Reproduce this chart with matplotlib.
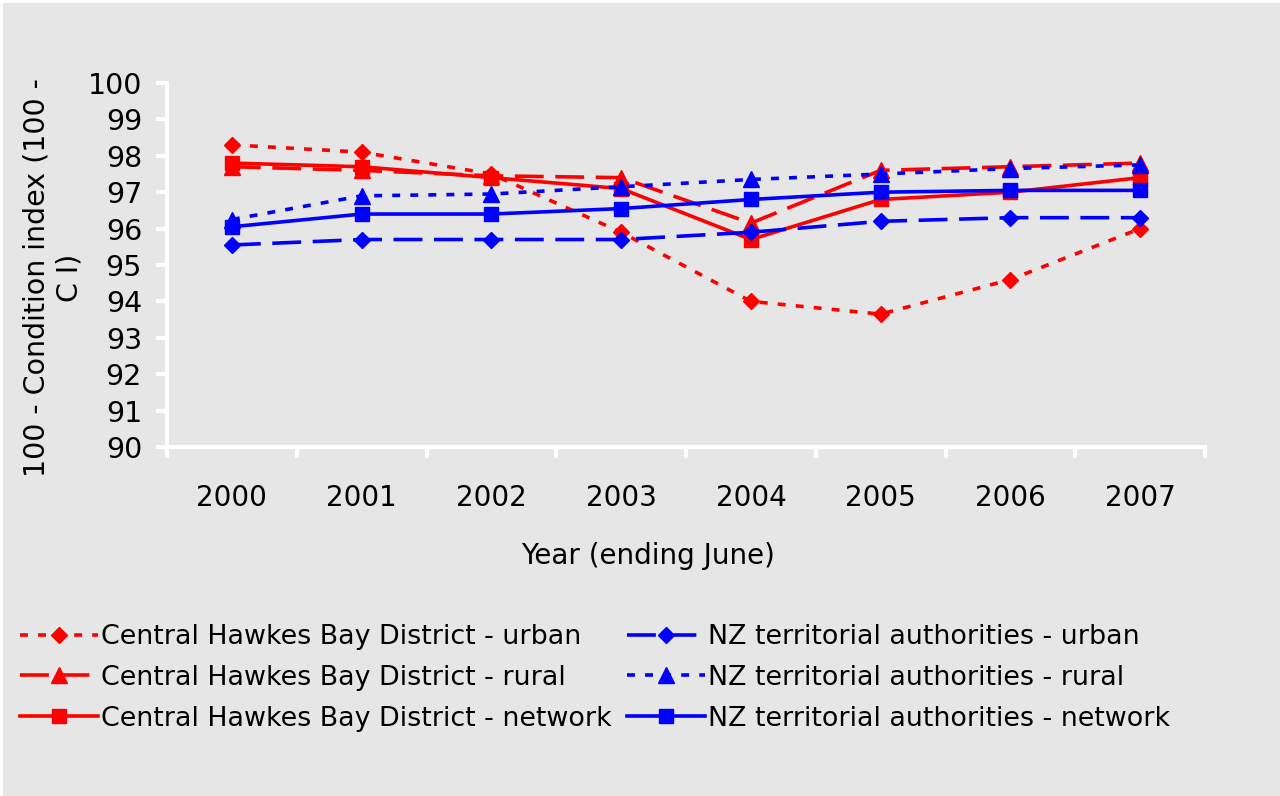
import matplotlib.pyplot as plt
import numpy as np
from matplotlib.patches import Rectangle
from matplotlib.ticker import FixedLocator, NullFormatter

# Data
years = ['2000', '2001', '2002', '2003', '2004', '2005', '2006', '2007']
chb_urban = [98.3, 98.1, 97.5, 95.9, 94.0, 93.65, 94.6, 96.0]
chb_rural = [97.7, 97.6, 97.45, 97.4, 96.15, 97.6, 97.7, 97.8]
chb_network = [97.8, 97.7, 97.4, 97.1, 95.7, 96.8, 97.0, 97.4]
nz_urban = [95.55, 95.7, 95.7, 95.7, 95.9, 96.2, 96.3, 96.3]
nz_rural = [96.25, 96.9, 96.95, 97.15, 97.35, 97.5, 97.65, 97.75]
nz_network = [96.05, 96.4, 96.4, 96.55, 96.8, 97.0, 97.05, 97.05]

bg = '#e6e6e6'
plt.rcParams['font.family'] = 'DejaVu Sans'
plt.rcParams['font.size'] = 20

fig = plt.figure(figsize=(12.8, 7.96), dpi=100, facecolor='white')
# grey panel with thin white edge on the left and top
fig.patches.append(Rectangle((3 / 1280, 0), 1, 1 - 3 / 796, transform=fig.transFigure,
                             facecolor=bg, edgecolor='none', zorder=-1))

ax = fig.add_axes([167 / 1280, 1 - 447 / 796, (1205 - 167) / 1280, (447 - 83) / 796])
ax.set_facecolor(bg)

x = np.arange(len(years))
lw = 2.6
short = (2.2, 2.8)
long_ = (8.0, 3.2)

ax.plot(x, chb_urban, color='red', lw=lw, dashes=short, marker='D', ms=8.5,
        label='Central Hawkes Bay District - urban')
ax.plot(x, chb_rural, color='red', lw=lw, dashes=long_, marker='^', ms=11,
        label='Central Hawkes Bay District - rural')
ax.plot(x, chb_network, color='red', lw=lw, ls='-', marker='s', ms=9.5,
        label='Central Hawkes Bay District - network')
ax.plot(x, nz_urban, color='blue', lw=lw, dashes=long_, marker='D', ms=8.5,
        label='NZ territorial authorities - urban')
ax.plot(x, nz_rural, color='blue', lw=lw, dashes=short, marker='^', ms=11,
        label='NZ territorial authorities - rural')
ax.plot(x, nz_network, color='blue', lw=lw, ls='-', marker='s', ms=9.5,
        label='NZ territorial authorities - network')

ax.set_xlim(-0.5, len(years) - 0.5)
ax.set_ylim(90, 100)
ax.set_yticks(np.arange(90, 101, 1))

# category axis: ticks between categories, labels centred
ax.xaxis.set_major_locator(FixedLocator(np.arange(-0.5, len(years), 1)))
ax.xaxis.set_major_formatter(NullFormatter())
ax.xaxis.set_minor_locator(FixedLocator(x))
ax.set_xticklabels(years, minor=True)
ax.tick_params(axis='x', which='minor', length=0, pad=27)
ax.tick_params(axis='both', which='major', color='white', width=3, length=8,
               direction='out')
ax.tick_params(axis='y', pad=10, labelsize=20.5)

for s in ['top', 'right']:
    ax.spines[s].set_visible(False)
for s in ['left', 'bottom']:
    ax.spines[s].set_color('white')
    ax.spines[s].set_linewidth(3)

fig.text(53 / 1280, 1 - 278 / 796, '100 - Condition index (100 -\nC I)', rotation=90,
         ha='center', va='center', multialignment='center', linespacing=1.2,
         fontsize=20.5)
fig.text(648 / 1280, 1 - 556 / 796, 'Year (ending June)', ha='center', va='center')

fig.legend(loc='upper left', bbox_to_anchor=(20 / 1280, 1 - 624 / 796), ncol=2,
           frameon=False, borderpad=0, borderaxespad=0, handlelength=2.9,
           handletextpad=0.12, columnspacing=0.55, labelspacing=0.55, fontsize=19.4)

fig.savefig('out.png', dpi=100, facecolor=fig.get_facecolor())
